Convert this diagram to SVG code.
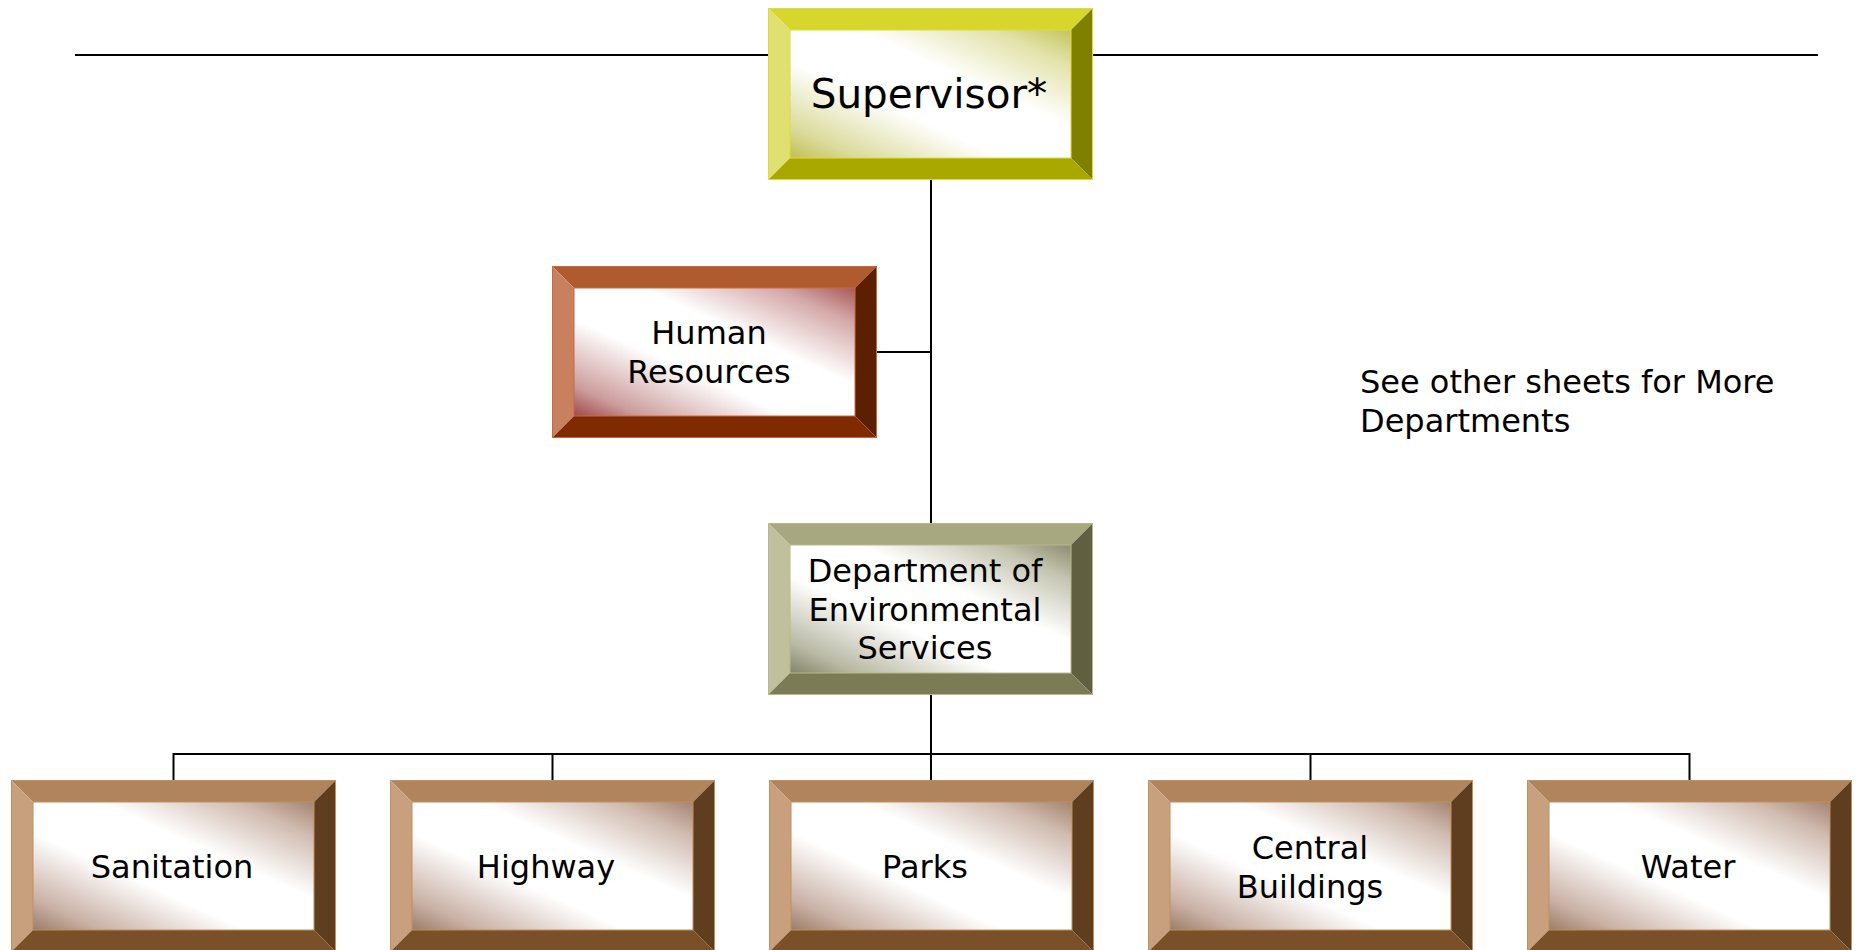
<svg xmlns="http://www.w3.org/2000/svg" xmlns:xlink="http://www.w3.org/1999/xlink" width="1862" height="950" viewBox="0 0 1862 950">
<defs>
<linearGradient id="gSup" x1="0" y1="1" x2="1" y2="0">
<stop offset="0" stop-color="#c0c050"/><stop offset="0.12" stop-color="#dada9a"/><stop offset="0.38" stop-color="#ffffff"/><stop offset="0.62" stop-color="#ffffff"/><stop offset="0.86" stop-color="#e2e2a8"/><stop offset="1" stop-color="#c4c45c"/>
</linearGradient>
<linearGradient id="gHr" x1="0" y1="1" x2="1" y2="0">
<stop offset="0" stop-color="#a04848"/><stop offset="0.12" stop-color="#cc9c9c"/><stop offset="0.38" stop-color="#ffffff"/><stop offset="0.62" stop-color="#ffffff"/><stop offset="0.86" stop-color="#d4a8a8"/><stop offset="1" stop-color="#a85858"/>
</linearGradient>
<linearGradient id="gDept" x1="0" y1="1" x2="1" y2="0">
<stop offset="0" stop-color="#84846a"/><stop offset="0.12" stop-color="#b8b8a4"/><stop offset="0.38" stop-color="#ffffff"/><stop offset="0.62" stop-color="#ffffff"/><stop offset="0.86" stop-color="#c4c4b0"/><stop offset="1" stop-color="#8c8c70"/>
</linearGradient>
<linearGradient id="gDiv" x1="0" y1="1" x2="1" y2="0">
<stop offset="0" stop-color="#9c7c68"/><stop offset="0.12" stop-color="#c8b0a4"/><stop offset="0.38" stop-color="#ffffff"/><stop offset="0.62" stop-color="#ffffff"/><stop offset="0.86" stop-color="#d0bcb0"/><stop offset="1" stop-color="#a48470"/>
</linearGradient>
<g id="bevel">
<polygon class="t" points="0,0 325,0 303,22 22,22"/>
<polygon class="l" points="0,0 22,22 22,150 0,172"/>
<polygon class="r" points="325,0 325,172 303,150 303,22"/>
<polygon class="b" points="0,172 22,150 303,150 325,172"/>
<rect class="in" x="22" y="22" width="281" height="128"/>
<rect class="edge" x="0.5" y="0.5" width="324" height="171"/>
</g>
</defs>
<style>
.t{fill:var(--t)} .l{fill:var(--l)} .r{fill:var(--r)} .b{fill:var(--b)}
.in{fill:var(--g);stroke:var(--e);stroke-width:1}
.edge{fill:none;stroke:var(--e);stroke-width:1}
.sup{--t:#d6d62c;--l:#e0e070;--r:#808000;--b:#a8a800;--e:#dcdc40;--g:url(#gSup)}
.hr{--t:#b05a30;--l:#c8805e;--r:#5c2000;--b:#7f2a00;--e:#c86a40;--g:url(#gHr)}
.dept{--t:#a8a880;--l:#c0c09c;--r:#606040;--b:#7b7b55;--e:#b8b890;--g:url(#gDept)}
.div{--t:#b0845c;--l:#c8a07e;--r:#5e3e1e;--b:#7a5028;--e:#c0905e;--g:url(#gDiv)}
text{font-family:"DejaVu Sans","Liberation Sans",sans-serif;fill:#000;text-anchor:middle}
.big{font-size:40.5px}
.lbl{font-size:32px}
.note{font-size:32px;text-anchor:start}
.conn line,.conn polyline{stroke:#000;stroke-width:2;fill:none}
</style>
<g class="conn" id="connectors">
<line x1="75" y1="55" x2="768" y2="55"/>
<line x1="1093" y1="55" x2="1818" y2="55"/>
<line x1="931" y1="180" x2="931" y2="523"/>
<line x1="877" y1="352" x2="931" y2="352"/>
<line x1="931" y1="695" x2="931" y2="780"/>
<polyline points="173.5,780 173.5,754 1689.5,754 1689.5,780"/>
<line x1="552.5" y1="754" x2="552.5" y2="780"/>
<line x1="1310.5" y1="754" x2="1310.5" y2="780"/>
</g>
<g id="supervisor" class="sup" transform="translate(768,8)"><use href="#bevel"/><text class="big" x="161" y="100">Supervisor*</text></g>
<g id="human-resources" class="hr" transform="translate(552,266)"><use href="#bevel"/><text class="lbl" x="157" y="78">Human</text><text class="lbl" x="157" y="117">Resources</text></g>
<g id="dept" class="dept" transform="translate(768,523)"><use href="#bevel"/><text class="lbl" x="157" y="59">Department of</text><text class="lbl" x="157" y="98">Environmental</text><text class="lbl" x="157" y="136">Services</text></g>
<g id="sanitation" class="div" transform="translate(11,780)"><use href="#bevel"/><text class="lbl" x="161" y="98">Sanitation</text></g>
<g id="highway" class="div" transform="translate(390,780)"><use href="#bevel"/><text class="lbl" x="156" y="98">Highway</text></g>
<g id="parks" class="div" transform="translate(769,780)"><use href="#bevel"/><text class="lbl" x="156" y="98">Parks</text></g>
<g id="central-buildings" class="div" transform="translate(1148,780)"><use href="#bevel"/><text class="lbl" x="162" y="79">Central</text><text class="lbl" x="162" y="118">Buildings</text></g>
<g id="water" class="div" transform="translate(1527,780)"><use href="#bevel"/><text class="lbl" x="161" y="98">Water</text></g>
<g id="note"><text class="note" x="1360" y="393">See other sheets for More</text><text class="note" x="1360" y="432">Departments</text></g>
</svg>
